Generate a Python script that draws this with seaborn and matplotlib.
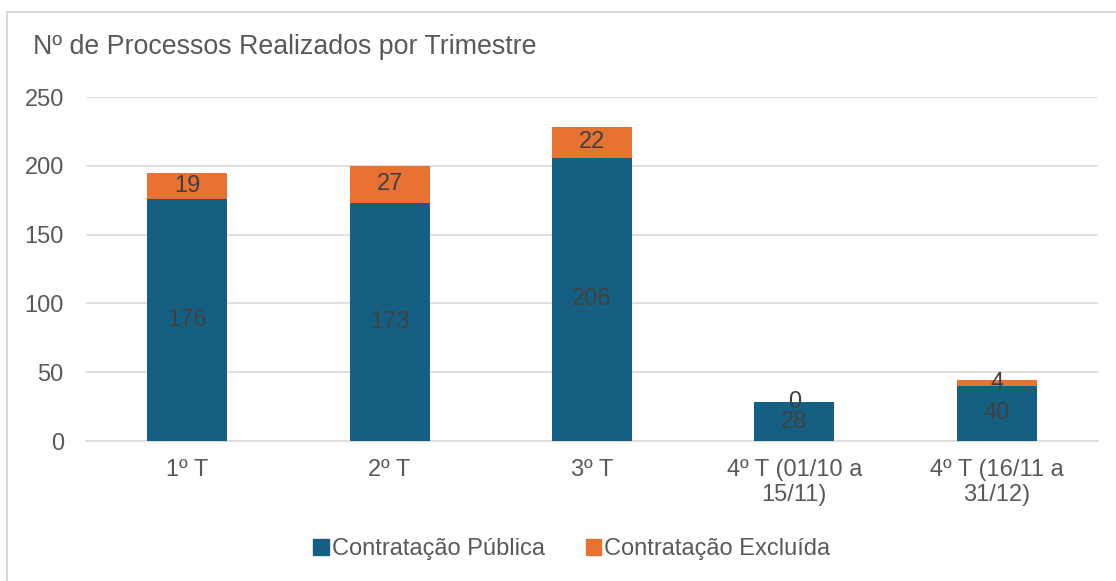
import matplotlib
matplotlib.use('Agg')
import matplotlib.pyplot as plt
import seaborn as sns
import pandas as pd
from matplotlib.patches import Patch, Rectangle

# data
trimestres = ['1º T', '2º T', '3º T', '4º T (01/10 a\n15/11)', '4º T (16/11 a\n31/12)']
publica = [176, 173, 206, 28, 40]
excluida = [19, 27, 22, 0, 4]

cor_publica = '#156082'
cor_excluida = '#E97132'

df = pd.DataFrame({'Trimestre': trimestres, 'Publica': publica, 'Excluida': excluida})
df['Total'] = df['Publica'] + df['Excluida']

sns.set_style('white')
plt.rcParams['font.family'] = ['Liberation Sans', 'DejaVu Sans']

fig = plt.figure(figsize=(11.16, 5.81), dpi=100)
ax = fig.add_axes([86 / 1116, 1 - 441 / 581, (1098 - 86) / 1116, (441 - 97) / 581])

# stacked: total in orange, public on top of it in blue
sns.barplot(data=df, x='Trimestre', y='Total', color=cor_excluida, width=0.395,
            saturation=1, linewidth=0, ax=ax, zorder=3)
sns.barplot(data=df, x='Trimestre', y='Publica', color=cor_publica, width=0.395,
            saturation=1, linewidth=0, ax=ax, zorder=3)

# data labels
for i, row in df.iterrows():
    ax.text(i, row['Publica'] / 2, str(row['Publica']), ha='center', va='center',
            fontsize=17, color='#404040', zorder=4)
    ax.text(i, row['Publica'] + row['Excluida'] / 2, str(row['Excluida']), ha='center',
            va='center', fontsize=17, color='#404040', zorder=4)

ax.set_ylim(0, 250)
ax.set_yticks([0, 50, 100, 150, 200, 250])
ax.set_xlim(-0.5, len(trimestres) - 0.5)
ax.yaxis.grid(True, color='#d9d9d9', linewidth=1.2, zorder=0)
ax.set_axisbelow(True)
for s in ax.spines.values():
    s.set_visible(False)
ax.spines['bottom'].set_visible(True)
ax.spines['bottom'].set_color('#d9d9d9')
ax.spines['bottom'].set_linewidth(1.2)
ax.set_xlabel('')
ax.set_ylabel('')
ax.tick_params(axis='both', length=0, labelsize=17, labelcolor='#595959')
ax.tick_params(axis='y', pad=16)
ax.tick_params(axis='x', pad=13)
for lbl in ax.get_yticklabels():
    lbl.set_horizontalalignment('right')

fig.text(33 / 1116, 1 - 47 / 581, 'Nº de Processos Realizados por Trimestre',
         fontsize=19.3, color='#595959', ha='left', va='center')

handles = [Patch(color=cor_publica, label='Contratação Pública'),
           Patch(color=cor_excluida, label='Contratação Excluída')]
fig.legend(handles=handles, loc='center', bbox_to_anchor=(572 / 1116, 1 - 549 / 581),
           ncol=2, frameon=False, fontsize=17, labelcolor='#595959',
           handlelength=0.65, handleheight=0.65, handletextpad=0.15, columnspacing=1.7)

# light chart border
fig.patches.append(Rectangle((7 / 1116, -0.05), 1.2, 1 - 12 / 581 + 0.05,
                             transform=fig.transFigure, fill=False,
                             edgecolor='#d9d9d9', linewidth=1.5))

fig.savefig('out.png', dpi=100)
